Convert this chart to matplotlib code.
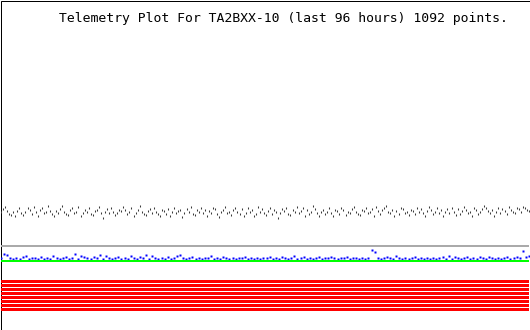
import matplotlib.pyplot as plt
from matplotlib.patches import Rectangle
import numpy as np

# APRS telemetry, last 96 hours, raw values 0-255
title = 'Telemetry Plot For TA2BXX-10 (last 96 hours) 1092 points.'
hours = 96

# analog channel 1 (black, noisy)
ch1 = [
    53, 57, 59, 55, 51, 50, 53, 49, 55, 58, 52, 50, 54, 58, 56, 51, 59, 54, 49, 56,
    58, 52, 54, 60, 55, 51, 49, 55, 52, 57, 60, 54, 51, 50, 56, 58, 52, 54, 59, 49,
    52, 56, 54, 58, 51, 50, 55, 56, 59, 52, 47, 54, 57, 52, 58, 54, 50, 52, 56, 55,
    59, 56, 51, 54, 58, 49, 52, 56, 60, 54, 51, 50, 55, 57, 52, 58, 54, 51, 49, 56,
    55, 51, 57, 49, 54, 58, 52, 55, 56, 48, 52, 57, 54, 59, 51, 50, 56, 54, 58, 52,
    56, 49, 55, 52, 58, 57, 51, 48, 54, 56, 59, 52, 54, 50, 56, 58, 54, 51, 57, 49,
    52, 58, 54, 56, 49, 51, 59, 54, 57, 52, 50, 55, 58, 51, 56, 54, 47, 52, 57, 55,
    58, 51, 50, 56, 54, 59, 52, 55, 58, 49, 56, 51, 54, 60, 57, 52, 49, 54, 56, 51,
    54, 58, 52, 49, 56, 55, 51, 58, 56, 50, 54, 52, 57, 59, 54, 51, 50, 56, 55, 58,
    52, 54, 57, 49, 59, 55, 51, 56, 58, 60, 54, 52, 56, 49, 55, 51, 58, 57, 52, 54,
    50, 56, 55, 51, 58, 54, 57, 52, 49, 55, 59, 56, 51, 54, 58, 52, 56, 49, 54, 57,
    52, 58, 54, 50, 57, 51, 55, 59, 56, 52, 54, 49, 58, 56, 51, 54, 57, 60, 58, 55,
    52, 56, 49, 54, 58, 52, 57, 55, 51, 59, 56, 54, 52, 58, 57, 54, 59, 58, 56, 55,
]
# analog channel 2 (gray) and channel 3 (green) are flat
ch2 = 18
ch3 = 2
# analog channel 4 (blue), sits just above channel 3
ch4 = [
    5, 9, 8, 5, 4, 5, 4, 6, 7, 4,
    5, 5, 4, 6, 4, 5, 4, 7, 5, 4,
    5, 6, 4, 5, 9, 4, 7, 6, 5, 4,
    6, 5, 8, 4, 7, 5, 4, 5, 6, 4,
    5, 4, 7, 5, 4, 6, 5, 8, 4, 7,
    5, 4, 5, 4, 6, 4, 5, 7, 8, 5,
    4, 5, 6, 4, 5, 4, 5, 5, 7, 4,
    5, 4, 6, 5, 4, 5, 4, 5, 5, 6,
    4, 5, 4, 5, 4, 5, 5, 6, 4, 5,
    4, 6, 5, 4, 5, 7, 4, 5, 6, 4,
    5, 4, 5, 6, 4, 5, 5, 6, 5, 4,
    5, 5, 6, 4, 5, 5, 4, 5, 4, 5,
    14, 12, 5, 4, 5, 6, 5, 4, 7, 5,
    4, 5, 4, 5, 6, 4, 5, 4, 5, 4,
    5, 4, 5, 6, 4, 7, 4, 6, 5, 4,
    5, 6, 4, 5, 4, 6, 5, 4, 6, 5,
    4, 5, 4, 5, 6, 4, 5, 6, 5, 13,
    6, 7,
]
# digital bits 1-8, all set for the whole period
bits = [1, 1, 1, 1, 1, 1, 1, 1]

W, H = 530, 330
fig = plt.figure(figsize=(W / 100, H / 100), dpi=100)
fig.patch.set_facecolor('white')

# frame
frame = fig.add_axes([0, 0, 1, 1])
frame.set_xlim(0, W)
frame.set_ylim(H, 0)
frame.axis('off')
frame.add_patch(Rectangle((0.5, 0.5), W - 1, H - 1, fill=False, ec='black', lw=0.72))

fig.text(508 / W, 1 - 22 / H, title, ha='right', va='baseline',
         family='DejaVu Sans Mono', fontsize=9.45, color='black')

# analog area
ax = fig.add_axes([1 / W, (H - 263) / H, 528 / W, 243 / H])
ax.set_xlim(0, hours)
ax.set_ylim(0, 255)
ax.axis('off')
ax.plot([0, hours], [ch2, ch2], color='#aaaaaa', lw=1.44, solid_capstyle='butt')
ax.plot(np.linspace(0, hours, len(ch1)), ch1, ls='none', marker='|', ms=1.5,
        mew=0.75, color='#3a3a3a')
ax.plot(np.linspace(0, hours, len(ch4)), ch4, ls='none', marker='s', ms=2.0,
        mec='none', mfc='#0000ff')
ax.plot([0, hours], [ch3, ch3], color='#00ff00', lw=1.44, solid_capstyle='butt')

# digital bits
bx = fig.add_axes([1 / W, (H - 312) / H, 528 / W, 32 / H])
bx.set_xlim(0, hours)
bx.set_ylim(0, 8)
bx.axis('off')
for k, b in enumerate(bits):
    if b:
        bx.barh(k + 0.25, hours, height=0.75, left=0, align='edge',
                color='#ff0000', lw=0)

fig.savefig('out.png', dpi=100)
